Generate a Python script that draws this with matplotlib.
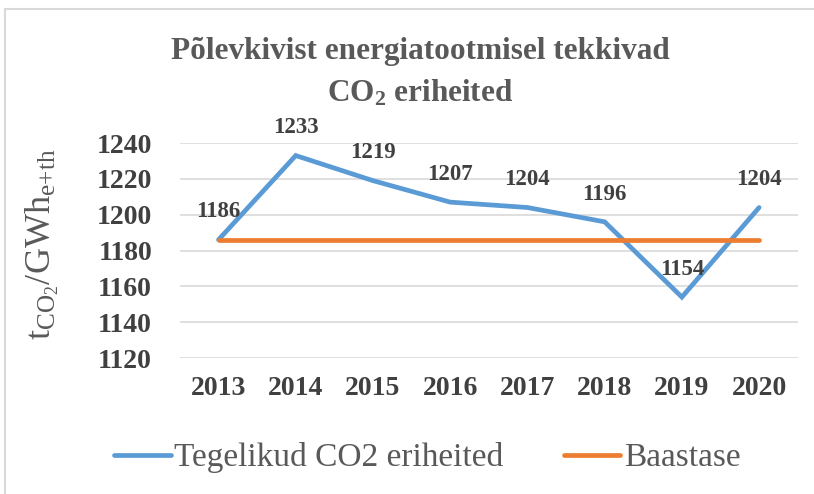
import matplotlib.pyplot as plt
from matplotlib.patches import Rectangle

# andmed
aastad = ['2013', '2014', '2015', '2016', '2017', '2018', '2019', '2020']
tegelikud = [1186, 1233, 1219, 1207, 1204, 1196, 1154, 1204]
baastase = [1186] * len(aastad)
y_ticks = [1120, 1140, 1160, 1180, 1200, 1220, 1240]

plt.rcParams['font.family'] = ['Liberation Serif', 'DejaVu Serif']
plt.rcParams['mathtext.fontset'] = 'custom'
plt.rcParams['mathtext.rm'] = 'Liberation Serif'
plt.rcParams['mathtext.it'] = 'Liberation Serif'
plt.rcParams['mathtext.bf'] = 'Liberation Serif:bold'

TEKST = '#595959'
TUME = '#404040'

fig = plt.figure(figsize=(8.14, 4.94), dpi=100)
ax = fig.add_axes([0.221, 0.2753, 0.759, 0.4352])

x = list(range(len(aastad)))
ax.plot(x, tegelikud, color='#5B9BD5', lw=3.4, solid_capstyle='round',
        solid_joinstyle='miter', label='Tegelikud CO2 eriheited', zorder=3)
ax.plot(x, baastase, color='#ED7D31', lw=3.4, solid_capstyle='round',
        label='Baastase', zorder=3)

for xi, v in zip(x, tegelikud):
    ax.annotate(str(v), (xi, v), xytext=(0, 20), textcoords='offset points',
                ha='center', va='center', fontsize=16.5, fontweight='bold', color=TUME)

ax.set_xlim(-0.5, len(aastad) - 0.5)
ax.set_ylim(1120, 1240)
ax.set_yticks(y_ticks)
ax.set_xticks(x)
ax.set_xticklabels(aastad)
ax.yaxis.grid(True, color='#D9D9D9', lw=1.2)
ax.set_axisbelow(True)
for s in ax.spines.values():
    s.set_visible(False)
ax.tick_params(length=0, labelsize=20, labelcolor=TUME)
for lbl in ax.get_xticklabels() + ax.get_yticklabels():
    lbl.set_fontweight('bold')
ax.tick_params(axis='x', pad=13)
ax.tick_params(axis='y', pad=20)

fig.text(0.052, 0.505, r'$\mathrm{t_{CO_2}/GWh_{e{+}th}}$', rotation=90, ha='center',
         va='center', fontsize=26, color=TEKST)

fig.text(0.516, 0.896, 'Põlevkivist energiatootmisel tekkivad', ha='center', va='center',
         fontsize=22.5, fontweight='bold', color=TEKST)
fig.text(0.516, 0.812, r'CO$_\mathbf{2}$ eriheited', ha='center', va='center',
         fontsize=22.5, fontweight='bold', color=TEKST)

fig.legend(loc='center', bbox_to_anchor=(0.525, 0.073), ncol=2, frameon=False,
           fontsize=24, labelcolor=TEKST, handlelength=1.7, handletextpad=0.1,
           columnspacing=1.8)

fig.patches.append(Rectangle((5 / 814, -0.1), 1.2, 1 - 9 / 494 + 0.1,
                             transform=fig.transFigure, fill=False,
                             edgecolor='#D9D9D9', lw=1.5))

fig.savefig('out.png', dpi=100)
